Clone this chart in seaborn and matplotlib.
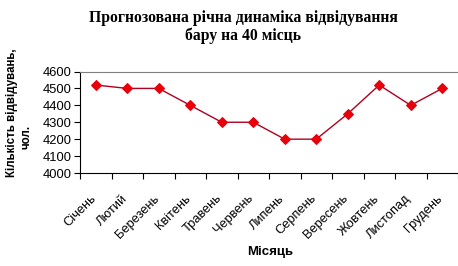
import matplotlib
matplotlib.use("Agg")
import matplotlib.pyplot as plt
import matplotlib.transforms as mtransforms
import seaborn as sns
from matplotlib.ticker import FixedLocator

months = ["Січень", "Лютий", "Березень", "Квітень", "Травень", "Червень",
          "Липень", "Серпень", "Вересень", "Жовтень", "Листопад", "Грудень"]
visitors = [4520, 4500, 4500, 4400, 4300, 4300, 4200, 4200, 4350, 4520, 4400, 4500]
y_ticks = [4000, 4100, 4200, 4300, 4400, 4500, 4600]

sns.set_theme(style="white")
plt.rcParams['font.family'] = ['Liberation Sans', 'DejaVu Sans']
plt.rcParams['text.color'] = 'black'
plt.rcParams['xtick.color'] = 'black'
plt.rcParams['ytick.color'] = 'black'

fig = plt.figure(figsize=(4.58, 2.66), dpi=100)
ax = fig.add_axes([80/458, 1-173/266, 1-80/458, (173-71.5)/266])

sns.lineplot(x=months, y=visitors, sort=False, ax=ax, color="#B00020", linewidth=1.0,
             marker="D", markersize=5, markerfacecolor="#E8000B",
             markeredgecolor="#E8000B")

ax.set_xlim(-0.5, len(months) - 0.5)
ax.set_ylim(y_ticks[0], y_ticks[-1])
ax.set_yticks(y_ticks)
ax.set_yticklabels([str(v) for v in y_ticks], fontsize=9.3)

ax.set_xticks(range(len(months)))
ax.set_xticklabels(months, rotation=45, ha="right", rotation_mode="anchor", fontsize=9.3)
ax.xaxis.set_minor_locator(FixedLocator([i - 0.5 for i in range(len(months) + 1)]))
ax.tick_params(axis="x", which="major", length=0, pad=14)
ax.tick_params(axis="x", which="minor", length=4, width=0.8, color="black", direction="out", bottom=True)
ax.tick_params(axis="y", which="major", length=4, width=0.8, color="black", direction="out", left=True, pad=2)

offset = mtransforms.ScaledTranslation(-6/100, 0, fig.dpi_scale_trans)
for tick in ax.xaxis.get_major_ticks():
    tick.label1.set_transform(tick.label1.get_transform() + offset)

for s in ["left", "bottom"]:
    ax.spines[s].set_color("black")
    ax.spines[s].set_linewidth(0.8)
ax.spines["top"].set_color("#808080")
ax.spines["top"].set_linewidth(0.8)
ax.spines["right"].set_visible(False)
ax.grid(False)
ax.set_xlabel("")
ax.set_ylabel("")

fig.text(243/458, 1-18/266, "Прогнозована річна динаміка відвідування",
         ha="center", va="center", fontsize=11.3, fontweight="bold", color="black",
         family=["Liberation Serif", "DejaVu Serif"])
fig.text(243/458, 1-36/266, "бару на 40 місць",
         ha="center", va="center", fontsize=11.3, fontweight="bold", color="black",
         family=["Liberation Serif", "DejaVu Serif"])

fig.text(270/458, 1-252/266, "Місяць", ha="center", va="center",
         fontsize=9.5, fontweight="bold", color="black")
fig.text(12/458, 1-113/266, "Кількість відвідувань,", ha="center", va="center",
         rotation=90, fontsize=8.3, fontweight="bold", color="black")
fig.text(27/458, 1-137/266, "чол.", ha="center", va="center",
         rotation=90, fontsize=8.3, fontweight="bold", color="black")

fig.savefig("out.png", dpi=100)
